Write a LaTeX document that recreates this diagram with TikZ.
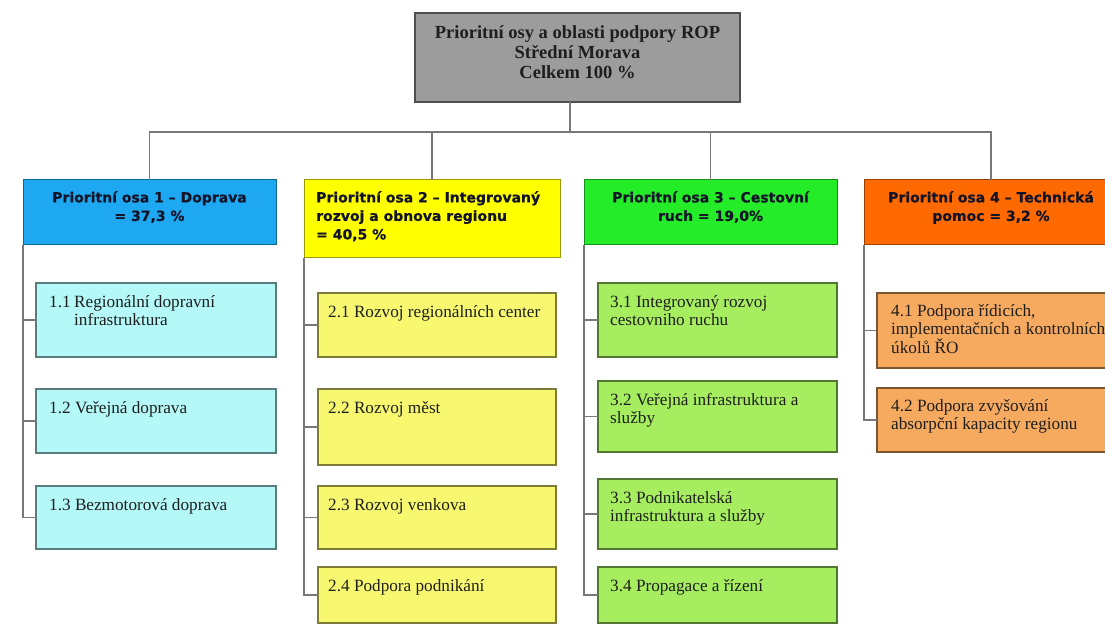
\documentclass[tikz,border=0pt]{standalone}
\usepackage{fontspec}
\setmainfont{Liberation Serif}
\newfontfamily\hdrfont{DejaVu Sans}[BoldFeatures={FakeBold=0.6}]
\definecolor{connc}{RGB}{120,120,120}
\definecolor{topfill}{RGB}{156,156,156}
\definecolor{topbd}{RGB}{78,78,78}
\definecolor{axa}{RGB}{30,168,242}
\definecolor{axb}{RGB}{255,255,0}
\definecolor{axc}{RGB}{36,236,40}
\definecolor{axd}{RGB}{255,106,0}
\definecolor{suba}{RGB}{180,248,248}
\definecolor{subb}{RGB}{248,248,112}
\definecolor{subc}{RGB}{166,238,96}
\definecolor{subd}{RGB}{246,170,96}
\definecolor{hdrc}{RGB}{20,20,40}
\definecolor{txtc}{RGB}{30,30,30}
\begin{document}
\begin{tikzpicture}[x=1pt,y=-1pt,
  conn/.style={draw=connc, line width=1.4pt},
  topbox/.style={draw=topbd, line width=2.6pt, fill=topfill, anchor=north west, inner sep=0pt, outer sep=0pt},
  axbox/.style={draw=#1!60!black, line width=1pt, fill=#1, anchor=north west, inner sep=0pt, outer sep=0pt},
  subbox/.style={draw=#1!50!black, line width=1.1pt, fill=#1, anchor=north west, inner sep=0pt, outer sep=0pt},
  hdr/.style={font=\hdrfont\bfseries\fontsize{14}{18.5}\selectfont, inner sep=0pt, text=hdrc},
  toptxt/.style={font=\bfseries\fontsize{18.5}{20.2}\selectfont, inner sep=0pt, align=center, anchor=north, text=txtc},
  subtxt/.style={font=\fontsize{17.2}{18.6}\selectfont, inner sep=0pt, align=left, anchor=north west, text=txtc},
  ]
\clip (0,0) rectangle (1105,628);
\fill[white] (0,0) rectangle (1105,628);
% top box
\node[topbox, minimum width=325pt, minimum height=89pt] (T) at (415,13) {};
\node[toptxt] (Tt) at ([yshift=-12pt]T.north) {Prioritní osy a oblasti podpory ROP\\Střední Morava\\Celkem 100 \%};
% axis boxes
\node[axbox=axa, minimum width=253pt, minimum height=65pt] (A1) at (23,180) {};
\node[axbox=axb, minimum width=256pt, minimum height=78pt] (A2) at (304,180) {};
\node[axbox=axc, minimum width=253pt, minimum height=65pt] (A3) at (584,180) {};
\node[axbox=axd, minimum width=254pt, minimum height=65pt] (A4) at (864,180) {};
\node[hdr, align=center, anchor=north] (H1) at ([yshift=-11pt]A1.north) {Prioritní osa 1 – Doprava\\= 37,3 \%};
\node[hdr, align=left, anchor=north west] (H2) at ([shift={(12pt,-11pt)}]A2.north west) {Prioritní osa 2 – Integrovaný\\rozvoj a obnova regionu\\= 40,5 \%};
\node[hdr, align=center, anchor=north] (H3) at ([yshift=-11pt]A3.north) {Prioritní osa 3 – Cestovní\\ruch = 19,0\%};
\node[hdr, align=center, anchor=north] (H4) at ([yshift=-11pt]A4.north) {Prioritní osa 4 – Technická\\pomoc = 3,2 \%};
% sub boxes axis 1
\node[subbox=suba, minimum width=240pt, minimum height=74pt] (S11) at (36,283) {};
\node[subbox=suba, minimum width=240pt, minimum height=64pt] (S12) at (36,389) {};
\node[subbox=suba, minimum width=240pt, minimum height=63pt] (S13) at (36,486) {};
% axis 2
\node[subbox=subb, minimum width=238pt, minimum height=64pt] (S21) at (318,293) {};
\node[subbox=subb, minimum width=238pt, minimum height=76pt] (S22) at (318,389) {};
\node[subbox=subb, minimum width=238pt, minimum height=63pt] (S23) at (318,486) {};
\node[subbox=subb, minimum width=238pt, minimum height=56pt] (S24) at (318,567) {};
% axis 3
\node[subbox=subc, minimum width=239pt, minimum height=74pt] (S31) at (598,283) {};
\node[subbox=subc, minimum width=239pt, minimum height=71pt] (S32) at (598,381) {};
\node[subbox=subc, minimum width=239pt, minimum height=70pt] (S33) at (598,479) {};
\node[subbox=subc, minimum width=239pt, minimum height=56pt] (S34) at (598,567) {};
% axis 4
\node[subbox=subd, minimum width=240pt, minimum height=75pt] (S41) at (877,293) {};
\node[subbox=subd, minimum width=240pt, minimum height=64pt] (S42) at (877,388) {};
% sub texts
\node[subtxt] (t11) at ([shift={(13pt,-12pt)}]S11.north west) {\makebox[25pt][l]{1.1}Regionální dopravní\\\hspace*{25pt}infrastruktura};
\node[subtxt] (t12) at ([shift={(13pt,-12pt)}]S12.north west) {1.2 Veřejná doprava};
\node[subtxt] (t13) at ([shift={(13pt,-12pt)}]S13.north west) {1.3 Bezmotorová doprava};
\node[subtxt] (t21) at ([shift={(10pt,-12pt)}]S21.north west) {2.1 Rozvoj regionálních center};
\node[subtxt] (t22) at ([shift={(10pt,-12pt)}]S22.north west) {2.2 Rozvoj měst};
\node[subtxt] (t23) at ([shift={(10pt,-12pt)}]S23.north west) {2.3 Rozvoj venkova};
\node[subtxt] (t24) at ([shift={(10pt,-12pt)}]S24.north west) {2.4 Podpora podnikání};
\node[subtxt] (t31) at ([shift={(12pt,-12pt)}]S31.north west) {3.1 Integrovaný rozvoj\\cestovniho ruchu};
\node[subtxt] (t32) at ([shift={(12pt,-12pt)}]S32.north west) {3.2 Veřejná infrastruktura a\\služby};
\node[subtxt] (t33) at ([shift={(12pt,-12pt)}]S33.north west) {3.3 Podnikatelská\\infrastruktura a služby};
\node[subtxt] (t34) at ([shift={(12pt,-12pt)}]S34.north west) {3.4 Propagace a řízení};
\node[subtxt] (t41) at ([shift={(14pt,-11pt)}]S41.north west) {4.1 Podpora řídicích,\\implementačních a kontrolních\\úkolů ŘO};
\node[subtxt] (t42) at ([shift={(14pt,-11pt)}]S42.north west) {4.2 Podpora zvyšování\\absorpční kapacity regionu};
% connectors
\coordinate (bus) at (570,132);
\draw[conn] (T.south -| bus) -- (bus);
\draw[conn] (A1.north) |- (A4.north |- bus) -- (A4.north);
\draw[conn] (A2.north) -- (A2.north |- bus);
\draw[conn] (A3.north) -- (A3.north |- bus);
\draw[conn] (A1.south west) |- (S11.west);
\draw[conn] (A1.south west) |- (S12.west);
\draw[conn] (A1.south west) |- (S13.west);
\draw[conn] (A2.south west) |- (S21.west);
\draw[conn] (A2.south west) |- (S22.west);
\draw[conn] (A2.south west) |- (S23.west);
\draw[conn] (A2.south west) |- (S24.west);
\draw[conn] (A3.south west) |- (S31.west);
\draw[conn] (A3.south west) |- (S32.west);
\draw[conn] (A3.south west) |- (S33.west);
\draw[conn] (A3.south west) |- (S34.west);
\draw[conn] (A4.south west) |- (S41.west);
\draw[conn] (A4.south west) |- (S42.west);
\end{tikzpicture}
\end{document}
